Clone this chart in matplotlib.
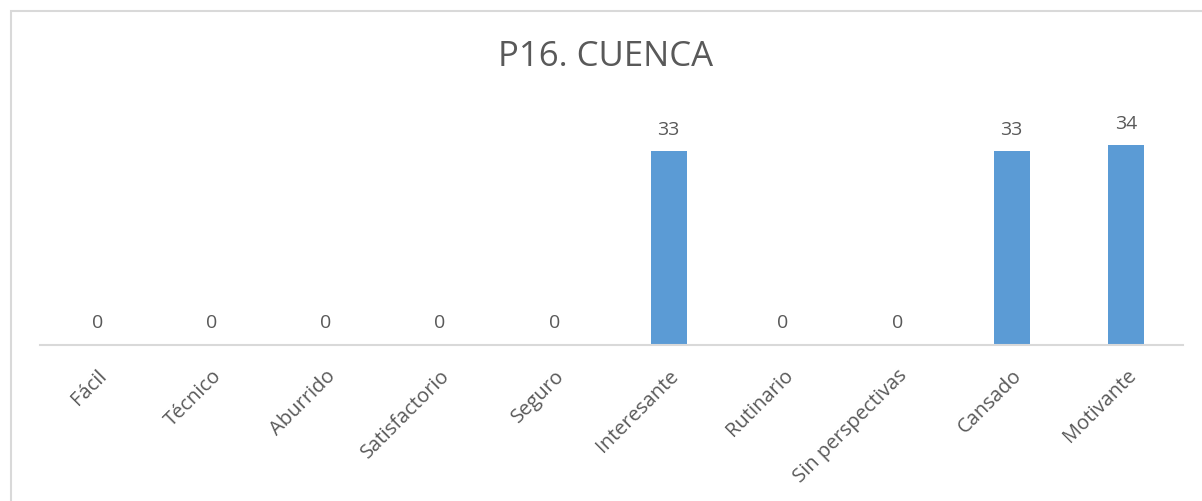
import matplotlib.pyplot as plt
from matplotlib.patches import Rectangle

categorias = ["Fácil", "Técnico", "Aburrido", "Satisfactorio", "Seguro",
              "Interesante", "Rutinario", "Sin perspectivas", "Cansado", "Motivante"]
valores = [0, 0, 0, 0, 0, 33, 0, 0, 33, 34]

plt.rcParams['font.family'] = ['Open Sans', 'DejaVu Sans']
gris = '#595959'

fig = plt.figure(figsize=(12.02, 5.01), dpi=100)
ax = fig.add_axes([40 / 1202, 1 - 345 / 501, 1143 / 1202, 235 / 501])

# marco del gráfico
fig.patches.append(Rectangle((11 / 1202, -0.1), 1.1, 1 - 11 / 501 + 0.1,
                             transform=fig.transFigure, fill=False,
                             edgecolor='#d9d9d9', linewidth=1.5))

x = range(len(categorias))
barras = ax.bar(x, valores, width=0.315, color='#5b9bd5')
ax.bar_label(barras, padding=9, fontsize=14, color=gris)

ax.set_xlim(-0.5, len(categorias) - 0.5)
ax.set_ylim(0, 40)
ax.set_xticks(list(x))
ax.set_xticklabels(categorias, rotation=45, ha='right', va='top',
                   rotation_mode='anchor', fontsize=14.5, color=gris)
ax.tick_params(axis='x', length=0, pad=15)
ax.set_yticks([])
for lado in ['top', 'right', 'left']:
    ax.spines[lado].set_visible(False)
ax.spines['bottom'].set_color('#d9d9d9')
ax.spines['bottom'].set_linewidth(1.5)

fig.text(606 / 1202, 1 - 57 / 501, "P16. CUENCA", fontsize=25, color=gris,
         ha='center', va='center')

fig.savefig('out.png', dpi=100)
